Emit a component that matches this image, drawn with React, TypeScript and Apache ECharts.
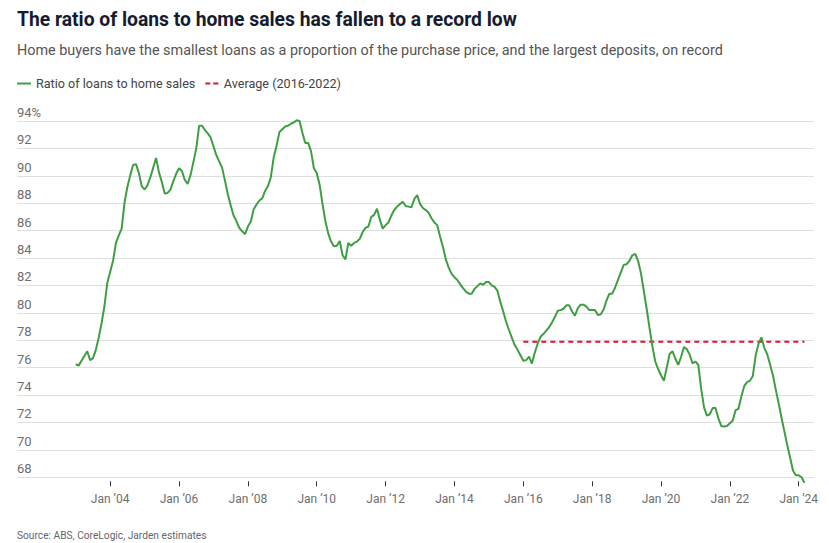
import React, { useEffect, useRef } from "react";
import * as echarts from "echarts";

const TITLE = "The ratio of loans to home sales has fallen to a record low";
const SUBTITLE =
  "Home buyers have the smallest loans as a proportion of the purchase price, and the largest deposits, on record";
const SOURCE = "Source: ABS, CoreLogic, Jarden estimates";

const SERIES_NAME = "Ratio of loans to home sales";
const AVG_NAME = "Average (2016-2022)";

// Monthly values starting January 2003
const START_YEAR = 2003;
const ratioValues = [
  76.25, 76.15, 76.5, 76.85, 77.2, 76.55, 76.7, 77.3, 78.2, 79.25, 80.5, 82.2,
  83.0, 83.8, 85.1, 85.65, 86.15, 88.05, 89.2, 90.05, 90.8, 90.85, 90.2, 89.25,
  89.0, 89.3, 89.9, 90.6, 91.3, 90.25, 89.55, 88.7, 88.75, 89.0, 89.6, 90.15,
  90.55, 90.35, 89.7, 89.4, 90.05, 91.0, 92.0, 93.65, 93.65, 93.35, 93.1, 92.8,
  92.15, 91.5, 91.05, 90.6, 89.65, 88.65, 87.85, 87.1, 86.7, 86.2, 85.95, 85.75,
  86.3, 86.65, 87.55, 87.9, 88.2, 88.35, 88.9, 89.25, 89.9, 91.35, 92.2, 93.2,
  93.4, 93.6, 93.65, 93.8, 93.9, 94.05, 94.0, 93.15, 92.4, 92.4, 91.8, 90.55,
  90.2, 89.35, 87.95, 86.7, 85.8, 85.2, 84.85, 84.9, 85.25, 84.2, 83.9, 85.1,
  84.9, 85.1, 85.2, 85.4, 85.9, 86.2, 86.3, 87.0, 87.15, 87.6, 86.8, 86.15,
  86.4, 86.6, 87.1, 87.5, 87.75, 87.95, 88.1, 87.8, 87.75, 87.7, 88.3, 88.6,
  87.95, 87.65, 87.5, 87.3, 86.9, 86.6, 86.4, 85.55, 84.8, 83.9, 83.3, 82.85,
  82.6, 82.4, 82.1, 81.8, 81.55, 81.4, 81.4, 81.75, 81.95, 82.15, 82.05, 82.25,
  82.25, 82.0, 81.9, 81.6, 80.8, 80.1, 79.35, 78.75, 78.2, 77.65, 77.3, 76.9,
  76.5, 76.55, 76.8, 76.3, 77.1, 77.75, 78.25, 78.45, 78.7, 78.95, 79.3, 79.7,
  80.15, 80.2, 80.3, 80.55, 80.55, 80.1, 79.8, 80.35, 80.6, 80.6, 80.45, 80.2,
  80.2, 80.2, 79.85, 79.9, 80.25, 80.9, 81.4, 81.4, 81.85, 82.4, 82.95, 83.5,
  83.55, 83.8, 84.2, 84.3, 83.8, 82.9, 81.6, 80.3, 78.9, 77.55, 76.45, 75.9,
  75.45, 75.05, 76.0, 77.0, 77.2, 76.65, 76.2, 76.8, 77.5, 77.35, 76.95, 76.3,
  76.45, 76.2, 74.45, 73.1, 72.5, 72.6, 73.05, 73.05, 72.3, 71.75, 71.7, 71.75,
  71.95, 72.15, 72.9, 73.0, 73.9, 74.65, 74.95, 75.05, 75.4, 76.9, 77.75, 78.2,
  77.45, 77.0, 76.25, 75.45, 74.4, 73.4, 72.35, 71.35, 70.35, 69.45, 68.5, 68.15,
  68.15, 68.0, 67.6,
];

// Average (2016-2022), drawn from Jan 2016 to the last observation
const AVG_VALUE = 77.9;
const AVG_START_YEAR = 2016;

const tickYears = [2004, 2006, 2008, 2010, 2012, 2014, 2016, 2018, 2020, 2022, 2024];
const tickLabels = [
  "Jan \u201904", "Jan \u201906", "Jan \u201908", "Jan \u201910", "Jan \u201912", "Jan \u201914",
  "Jan \u201916", "Jan \u201918", "Jan \u201920", "Jan \u201922", "Jan \u201924",
];

const Y_MIN = 68;
const Y_MAX = 94;
const X_MIN = 2001.293;
const X_MAX = 2024.444;

const FONT = "Roboto, 'Liberation Sans', sans-serif";

export default function App() {
  const ref = useRef<HTMLDivElement>(null);

  useEffect(() => {
    document.body.style.margin = "0";
    if (!ref.current) return;
    const chart = echarts.init(ref.current, undefined, { renderer: "svg" });
    const lineData = ratioValues.map((v, i) => [START_YEAR + i / 12, v]);
    const lastX = START_YEAR + (ratioValues.length - 1) / 12;
    const avgData = [
      [AVG_START_YEAR, AVG_VALUE],
      [lastX, AVG_VALUE],
    ];

    chart.setOption({
      animation: false,
      backgroundColor: "#ffffff",
      textStyle: { fontFamily: FONT },
      title: [
        {
          text: TITLE,
          left: 17,
          top: 10,
          padding: 0,
          textStyle: { fontSize: 19.3, fontWeight: "bold", color: "#161b2e", fontFamily: FONT },
        },
        {
          text: SUBTITLE,
          left: 17,
          top: 43,
          padding: 0,
          textStyle: { fontSize: 14.4, fontWeight: "normal", color: "#555555", fontFamily: FONT },
        },
        {
          text: SOURCE,
          left: 17,
          top: 530,
          padding: 0,
          textStyle: { fontSize: 10.2, fontWeight: "normal", color: "#666666", fontFamily: FONT },
        },
      ],
      legend: {
        left: 17,
        top: 77,
        padding: 0,
        itemWidth: 14,
        itemHeight: 2,
        itemGap: 10,
        textStyle: { fontSize: 12.6, color: "#444444", fontFamily: FONT },
        data: [
          { name: SERIES_NAME, icon: "path://M0,0h14v2h-14z" },
          { name: AVG_NAME, icon: "path://M0,0h5v2h-5z M8,0h5v2h-5z" },
        ],
      },
      grid: { left: 17, right: 15, top: 121, bottom: 65.7, containLabel: false },
      xAxis: {
        type: "value",
        min: X_MIN,
        max: X_MAX,
        offset: 4,
        axisLine: { show: false },
        axisTick: {
          show: true,
          length: 5,
          lineStyle: { color: "#333333", width: 1 },
          customValues: tickYears,
        },
        axisLabel: {
          customValues: tickYears,
          margin: 12,
          fontSize: 12,
          color: "#6e6e6e",
          fontFamily: FONT,
          formatter: (v: number) => {
            const idx = tickYears.indexOf(Math.round(v));
            return idx >= 0 ? tickLabels[idx] : "";
          },
        },
        splitLine: { show: false },
      },
      yAxis: {
        type: "value",
        min: Y_MIN,
        max: Y_MAX,
        interval: 2,
        axisLine: { show: false },
        axisTick: { show: false },
        axisLabel: {
          inside: true,
          margin: 0,
          align: "left",
          verticalAlign: "bottom",
          padding: [0, 0, 2, 0],
          fontSize: 13,
          color: "#6e6e6e",
          fontFamily: FONT,
          formatter: (v: number) => (v === Y_MAX ? `${v}%` : `${v}`),
        },
        splitLine: { show: true, lineStyle: { color: "#e0e0e0", width: 1 } },
      },
      series: [
        {
          name: SERIES_NAME,
          type: "line",
          data: lineData,
          symbol: "none",
          clip: false,
          lineStyle: { color: "#3f9e43", width: 2 },
          itemStyle: { color: "#3f9e43" },
          z: 3,
        },
        {
          name: AVG_NAME,
          type: "line",
          data: avgData,
          symbol: "none",
          lineStyle: { color: "#e8112d", width: 2, type: [5, 4] },
          itemStyle: { color: "#e8112d" },
          z: 2,
        },
      ],
    });

    return () => chart.dispose();
  }, []);

  return <div ref={ref} style={{ width: 829, height: 543 }} />;
}
